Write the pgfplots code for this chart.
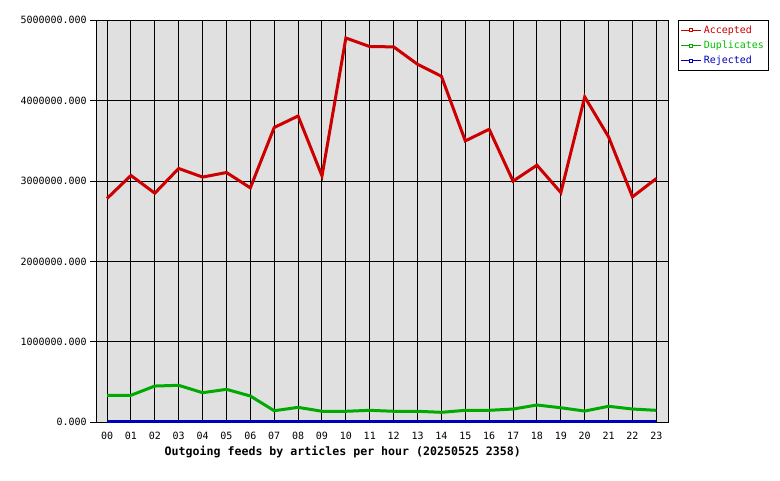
\documentclass[border=0pt]{standalone}
\usepackage{fontspec}
\setmonofont{DejaVu Sans Mono}
\usepackage{pgfplots}
\pgfplotsset{compat=1.18}
\definecolor{plotbg}{HTML}{E0E0E0}
\definecolor{accred}{HTML}{CC0000}
\definecolor{dupgreen}{HTML}{00AA00}
\definecolor{rejblue}{HTML}{0000BB}
\definecolor{leggreen}{HTML}{00C000}

\begin{document}
\begin{tikzpicture}[x=1pt,y=1pt]
\useasboundingbox (-96.3,-57.7) rectangle (683.7,422.3);
\begin{axis}[
    at={(0,0)}, anchor=south west,
    scale only axis, width=572pt, height=402pt,
    xmin=-0.45, xmax=23.5, ymin=0, ymax=5000000,
    scaled y ticks=false,
    axis background/.style={fill=plotbg},
    axis line style={black, line width=1pt},
    grid=major,
    major grid style={black, line width=1pt},
    xtick={0,...,23},
    xticklabels={00,01,02,03,04,05,06,07,08,09,10,11,12,13,14,15,16,17,18,19,20,21,22,23},
    ytick={0,1000000,2000000,3000000,4000000,5000000},
    yticklabels={0.000,1000000.000,2000000.000,3000000.000,4000000.000,5000000.000},
    tick align=outside, ytick pos=left, xtick pos=bottom,
    major tick length=6pt,
    xtick style={draw=none},
    ytick style={black, line width=1pt},
    ticklabel style={font=\fontsize{10}{12}\selectfont\ttfamily},
    xlabel={Outgoing feeds by articles per hour (20250525 2358)},
    xlabel style={font=\fontsize{11.6}{13}\selectfont\ttfamily\bfseries,
        at={(axis description cs:0.431,-0.073)}, anchor=center},
    legend style={at={(rel axis cs:1.0175,1)}, anchor=north west,
        draw=black, line width=1pt, fill=white,
        font=\fontsize{10}{12}\selectfont\ttfamily,
        inner xsep=2pt, inner ysep=3pt, row sep=2pt},
    legend cell align=left,
    legend image code/.code={
        \draw[#1, line width=1pt] (0pt,0pt) -- (20pt,0pt);
        \draw[#1, line width=0.8pt, fill=white] (8.5pt,-1.5pt) rectangle (11.5pt,1.5pt);
    },
]
\addplot[accred, line width=3pt] coordinates {
(0,2784000) (1,3070000) (2,2850000) (3,3157000) (4,3050000) (5,3107000)
(6,2916000) (7,3667000) (8,3810000) (9,3065000) (10,4780000) (11,4673000)
(12,4670000) (13,4453000) (14,4304000) (15,3500000) (16,3645000) (17,3000000)
(18,3198000) (19,2858000) (20,4047000) (21,3550000) (22,2804000) (23,3032000)
};
\addlegendentry{\textcolor{accred}{Accepted}}
\addplot[dupgreen, line width=3pt] coordinates {
(0,336000) (1,336000) (2,451000) (3,460000) (4,368000) (5,410000)
(6,327000) (7,144000) (8,186000) (9,137000) (10,137000) (11,149000)
(12,137000) (13,137000) (14,124000) (15,149000) (16,149000) (17,165000)
(18,215000) (19,181000) (20,140000) (21,199000) (22,165000) (23,149000)
};
\addlegendentry{\textcolor{leggreen}{Duplicates}}
\addplot[rejblue, line width=3pt] coordinates {
(0,15000) (1,15000) (2,15000) (3,15000) (4,15000) (5,15000)
(6,15000) (7,15000) (8,15000) (9,15000) (10,15000) (11,15000)
(12,15000) (13,15000) (14,15000) (15,15000) (16,15000) (17,15000)
(18,15000) (19,15000) (20,15000) (21,15000) (22,15000) (23,15000)
};
\addlegendentry{\textcolor{rejblue}{Rejected}}
\end{axis}
\end{tikzpicture}
\end{document}
